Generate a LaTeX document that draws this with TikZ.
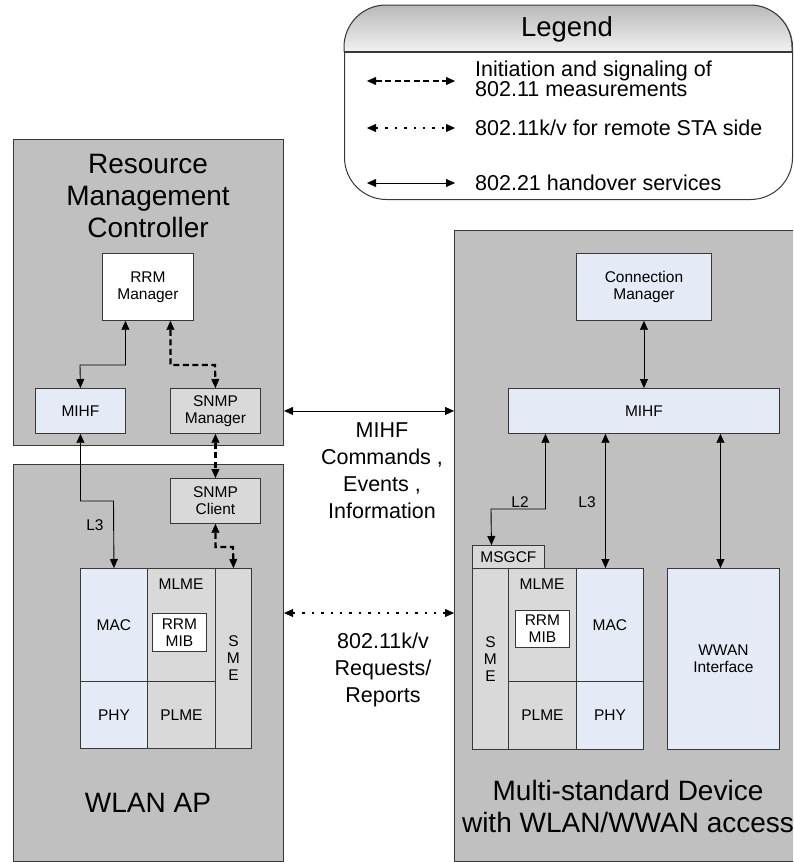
\documentclass[tikz,border=0pt]{standalone}
\usepackage{fontspec}
\setmainfont{Liberation Sans}
\usetikzlibrary{arrows.meta}

\definecolor{shellgray}{HTML}{C0C0C0}
\definecolor{paleblue}{HTML}{E4EBF6}
\definecolor{boxgray}{HTML}{D9D9D9}
\definecolor{rimgray}{HTML}{383838}
\definecolor{headtop}{HTML}{B8B8B8}
\definecolor{headbot}{HTML}{F0F0F0}

\tikzset{
  blk/.style={draw=rimgray, line width=0.9pt, anchor=north west, inner sep=0pt,
    align=center, font=\fontsize{15.5}{17}\selectfont},
  shell/.style={blk, fill=shellgray, line width=1.1pt},
  bluebox/.style={blk, fill=paleblue},
  graybox/.style={blk, fill=boxgray},
  whitebox/.style={blk, fill=white},
  lbl/.style={font=\fontsize{15.5}{17}\selectfont, align=center, inner sep=0pt},
  titletxt/.style={font=\fontsize{28}{32}\selectfont, align=center, inner sep=0pt},
  midtxt/.style={font=\fontsize{21.5}{27}\selectfont, align=center, inner sep=0pt},
  legtxt/.style={font=\fontsize{21.5}{19}\selectfont, align=left, inner sep=0pt, anchor=west},
  ptr/.tip={Triangle[length=9pt,width=8pt,line width=0.4pt]},
  hand/.style={line width=0.9pt, {ptr}-{ptr}},
  meas/.style={line width=2.2pt, dash pattern=on 6pt off 3.5pt, {ptr}-{ptr}},
  remote/.style={line width=2.4pt, dash pattern=on 2.4pt off 7pt, {ptr}-{ptr}},
}

\begin{document}
\begin{tikzpicture}[x=1pt,y=-1pt]
\useasboundingbox (0,0) rectangle (793,862);

% ---------- legend (drawn first) ----------
\node[draw=rimgray, fill=white, line width=1pt, rounded corners=42pt, minimum width=448pt,
  minimum height=194pt, anchor=north west, inner sep=0pt] (legend) at (344,5) {};
\begin{scope}
  \clip (344,53) [rounded corners=41pt] -- (344,5) -- (792,5) [sharp corners] -- (792,53) -- cycle;
  \foreach \i in {0,...,23}{
    \pgfmathsetmacro{\pct}{100*\i/23}
    \fill[headbot!\pct!headtop] (340,{4+2*\i}) rectangle (796,{6.5+2*\i});
  }
\end{scope}
\draw[rimgray, line width=1pt, rounded corners=42pt]
  (344,52) -- (344,5) -- (792,5) -- (792,52);
\draw[rimgray, line width=1.2pt] (legend.west |- 0,52) -- (legend.east |- 0,52);
\node[font=\fontsize{27.5}{32}\selectfont, inner sep=0pt] (legtitle) at (567,29) {Legend};

\coordinate (k1a) at (367,81);  \coordinate (k1b) at (455,81);
\coordinate (k2a) at (367,128); \coordinate (k2b) at (455,128);
\coordinate (k3a) at (367,183); \coordinate (k3b) at (455,183);
\draw[meas]   (k1a) -- (k1b);
\draw[remote] (k2a) -- (k2b);
\draw[hand]   (k3a) -- (k3b);
\node[legtxt] (t1) at (475,79)  {Initiation and signaling of\\802.11 measurements};
\node[legtxt] (t2) at (475,128) {802.11k/v for remote STA side};
\node[legtxt] (t3) at (475,183) {802.21 handover services};

% ---------- enclosing entities ----------
\node[shell, minimum width=270pt, minimum height=306pt] (rmc) at (13,139) {};
\node[shell, minimum width=270pt, minimum height=397pt] (ap)  at (13,464) {};
\begin{scope}
  \clip (0,0) rectangle (793,862);
  \node[shell, minimum width=372pt, minimum height=631pt] (msd) at (454,230) {};
  \node[titletxt] (msdtitle) at (628,806) {Multi-standard Device\\with WLAN/WWAN access};
\end{scope}

\node[titletxt] (rmctitle) at (148,196) {Resource\\Management\\Controller};
\node[titletxt] (aptitle)  at (148,803) {WLAN AP};

% ---------- resource management controller ----------
\node[whitebox, minimum width=91pt, minimum height=67pt] (rrm)   at (102,253) {RRM\\Manager};
\node[bluebox,  minimum width=90pt, minimum height=45pt] (mihfL) at (35,388)  {MIHF};
\node[graybox,  minimum width=90pt, minimum height=45pt] (snmpM) at (170,388) {SNMP\\Manager};

% ---------- WLAN AP ----------
\node[graybox,  minimum width=90pt, minimum height=45pt]  (snmpC) at (170,478) {SNMP\\Client};
\node[bluebox,  minimum width=67pt, minimum height=113pt] (macL)  at (80,568)  {MAC};
\node[bluebox,  minimum width=67pt, minimum height=67pt]  (phyL)  at (80,681)  {PHY};
\node[graybox,  minimum width=68pt, minimum height=113pt] (mlmeL) at (147,568) {};
\node[lbl] (mlmeLtxt) at (181,584) {MLME};
\node[graybox,  minimum width=68pt, minimum height=67pt]  (plmeL) at (147,681) {PLME};
\node[graybox,  minimum width=36pt, minimum height=180pt] (smeL)  at (215,568) {S\\M\\E};
\node[whitebox, minimum width=54pt, minimum height=38pt]  (mibL)  at (152,613) {RRM\\MIB};

% ---------- multi-standard device ----------
\node[bluebox,  minimum width=135pt, minimum height=67pt]  (cm)    at (576,253) {Connection\\Manager};
\node[bluebox,  minimum width=271pt, minimum height=45pt]  (mihfR) at (508,388) {MIHF};
\node[graybox,  minimum width=72pt,  minimum height=23pt]  (msgcf) at (472,545) {MSGCF};
\node[graybox,  minimum width=36pt,  minimum height=181pt] (smeR)  at (472,568) {S\\M\\E};
\node[graybox,  minimum width=68pt,  minimum height=113pt] (mlmeR) at (508,568) {};
\node[lbl] (mlmeRtxt) at (542,584) {MLME};
\node[graybox,  minimum width=68pt,  minimum height=68pt]  (plmeR) at (508,681) {PLME};
\node[bluebox,  minimum width=67pt,  minimum height=113pt] (macR)  at (576,568) {MAC};
\node[bluebox,  minimum width=67pt,  minimum height=68pt]  (phyR)  at (576,681) {PHY};
\node[whitebox, minimum width=54pt,  minimum height=37pt]  (mibR)  at (515,610) {RRM\\MIB};
\node[bluebox,  minimum width=112pt, minimum height=181pt] (wwan)  at (667,568) {WWAN\\Interface};

% ---------- connectors inside the controller and the AP ----------
\draw[hand] ([xshift=-22.5pt]rrm.south) |- (80,365) -- (mihfL.north);
\draw[meas] ([xshift=22.5pt]rrm.south) |- (215,365) -- (snmpM.north);
\draw[meas] (snmpM.south) -- (snmpC.north);
\draw[hand] (mihfL.south) |- (113.5,501) -- (macL.north);
\node[lbl] (l3L) at (95,525) {L3};
\draw[meas] (snmpC.south) |- (233,547) -- (smeL.north);

% ---------- connectors inside the device ----------
\draw[hand] (cm.south) -- (mihfR.north -| cm.south);
\draw[hand] ([xshift=-98.5pt]mihfR.south) |- (491,509) -- ([xshift=-17pt]msgcf.north);
\node[lbl] (l2R) at (520,502) {L2};
\draw[hand] ([xshift=-4.5pt]macR.north) -- ([xshift=-4.5pt]macR.north |- mihfR.south);
\node[lbl] (l3R) at (587,502) {L3};
\draw[hand] ([xshift=-3pt]wwan.north) -- ([xshift=-3pt]wwan.north |- mihfR.south);

% ---------- links between the entities ----------
\draw[hand] (rmc.east |- mihfR.west) -- (msd.west |- mihfR.west);
\node[midtxt] (cmdtxt) at (382,471) {MIHF\\Commands ,\\Events ,\\Information};
\coordinate (remoterow) at (0,613);
\draw[remote] (ap.east |- remoterow) -- (msd.west |- remoterow);
\node[midtxt] (reqtxt) at (383,670) {802.11k/v\\Requests/\\Reports};
\end{tikzpicture}
\end{document}
